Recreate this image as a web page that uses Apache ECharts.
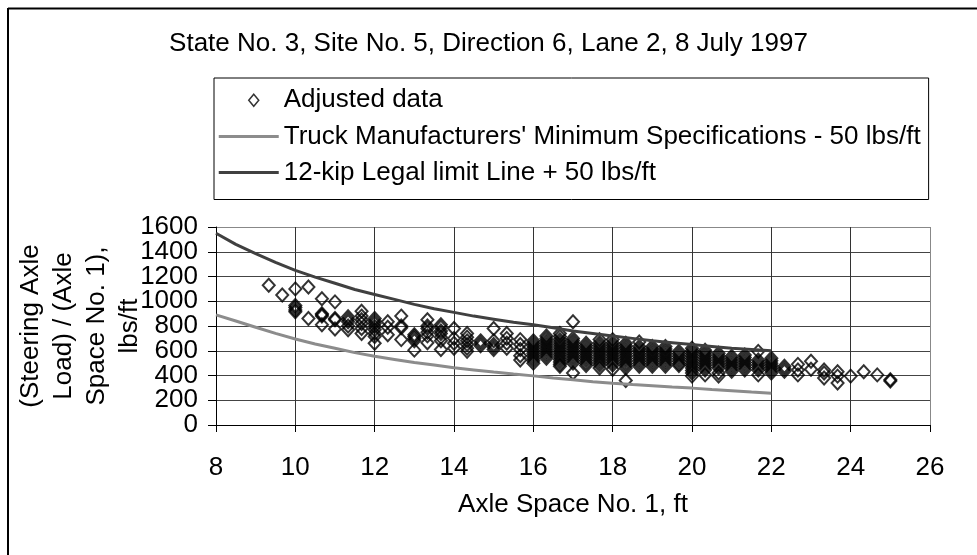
<!DOCTYPE html>
<html>
<head>
<meta charset="utf-8">
<script src="https://cdn.jsdelivr.net/npm/echarts@6/dist/echarts.min.js"></script>
<style>
  html, body { margin: 0; padding: 0; background: #fff; }
  #chart { width: 977px; height: 555px; }
</style>
</head>
<body>
<div id="chart"></div>
<script>
// axis ticks
const xTicks = [8, 26, 2]
const yTicks = [0, 1600, 200]

// Adjusted data, [axle space ft, lbs/ft]
const adjustedData = [
  [9.33, 1130], [9.67, 1050],
  [10.0, 1100], [10.0, 965], [10.0, 950], [10.0, 930], [10.0, 915],
  [10.33, 1115], [10.33, 860],
  [10.67, 1020], [10.67, 900], [10.67, 890], [10.67, 880], [10.67, 810],
  [11.0, 995], [11.0, 860], [11.0, 850], [11.0, 775],
  [11.33, 875], [11.33, 855], [11.33, 835], [11.33, 800], [11.33, 770],
  [11.67, 920], [11.67, 880], [11.67, 850], [11.67, 820], [11.67, 780], [11.67, 740],
  [12.0, 860], [12.0, 840], [12.0, 820], [12.0, 795], [12.0, 770], [12.0, 740], [12.0, 715], [12.0, 660],
  [12.33, 835], [12.33, 790], [12.33, 730],
  [12.67, 880], [12.67, 800], [12.67, 785], [12.67, 690],
  [13.0, 730], [13.0, 715], [13.0, 700], [13.0, 680], [13.0, 605],
  [13.33, 850], [13.33, 800], [13.33, 780], [13.33, 750], [13.33, 720], [13.33, 665],
  [13.67, 810], [13.67, 790], [13.67, 760], [13.67, 740], [13.67, 710], [13.67, 680], [13.67, 610],
  [14.0, 780], [14.0, 700], [14.0, 660], [14.0, 620],
  [14.33, 740], [14.33, 710], [14.33, 680], [14.33, 650], [14.33, 620], [14.33, 595],
  [14.67, 680], [14.67, 660], [14.67, 640],
  [15.0, 780], [15.0, 680], [15.0, 650], [15.0, 630], [15.0, 610],
  [15.33, 740], [15.33, 700], [15.33, 660], [15.33, 620],
  [15.67, 690], [15.67, 650], [15.67, 610], [15.67, 560], [15.67, 525],
  [16.0, 680], [16.0, 660], [16.0, 640], [16.0, 620], [16.0, 600], [16.0, 580], [16.0, 560], [16.0, 540], [16.0, 520], [16.0, 500],
  [16.33, 720], [16.33, 700], [16.33, 680], [16.33, 660], [16.33, 640], [16.33, 620], [16.33, 600], [16.33, 580], [16.33, 560], [16.33, 540],
  [16.67, 740], [16.67, 715], [16.67, 690], [16.67, 670], [16.67, 650], [16.67, 630], [16.67, 610], [16.67, 590], [16.67, 570], [16.67, 550], [16.67, 530], [16.67, 510], [16.67, 490], [16.67, 475],
  [17.0, 835], [17.0, 700], [17.0, 680], [17.0, 660], [17.0, 640], [17.0, 620], [17.0, 600], [17.0, 580], [17.0, 560], [17.0, 540], [17.0, 520], [17.0, 500], [17.0, 420],
  [17.33, 660], [17.33, 640], [17.33, 620], [17.33, 600], [17.33, 580], [17.33, 560], [17.33, 540], [17.33, 520], [17.33, 500], [17.33, 480],
  [17.67, 690], [17.67, 665], [17.67, 645], [17.67, 625], [17.67, 605], [17.67, 585], [17.67, 565], [17.67, 545], [17.67, 525], [17.67, 505], [17.67, 485], [17.67, 460],
  [18.0, 690], [18.0, 665], [18.0, 645], [18.0, 625], [18.0, 605], [18.0, 585], [18.0, 565], [18.0, 545], [18.0, 525], [18.0, 505], [18.0, 485], [18.0, 450],
  [18.33, 660], [18.33, 640], [18.33, 620], [18.33, 600], [18.33, 580], [18.33, 560], [18.33, 540], [18.33, 520], [18.33, 500], [18.33, 480], [18.33, 460], [18.33, 360],
  [18.67, 670], [18.67, 635], [18.67, 615], [18.67, 595], [18.67, 575], [18.67, 555], [18.67, 535], [18.67, 515], [18.67, 495], [18.67, 475],
  [19.0, 635], [19.0, 615], [19.0, 595], [19.0, 575], [19.0, 555], [19.0, 535], [19.0, 515], [19.0, 495], [19.0, 475],
  [19.33, 635], [19.33, 615], [19.33, 595], [19.33, 575], [19.33, 555], [19.33, 535], [19.33, 515], [19.33, 495], [19.33, 475],
  [19.67, 595], [19.67, 575], [19.67, 555], [19.67, 535], [19.67, 515], [19.67, 495], [19.67, 480],
  [20.0, 620], [20.0, 600], [20.0, 580], [20.0, 560], [20.0, 540], [20.0, 520], [20.0, 500], [20.0, 480], [20.0, 460], [20.0, 440], [20.0, 420], [20.0, 395],
  [20.33, 605], [20.33, 585], [20.33, 565], [20.33, 545], [20.33, 525], [20.33, 505], [20.33, 485], [20.33, 465], [20.33, 445], [20.33, 405],
  [20.67, 580], [20.67, 560], [20.67, 540], [20.67, 520], [20.67, 500], [20.67, 480], [20.67, 460], [20.67, 420], [20.67, 395],
  [21.0, 555], [21.0, 535], [21.0, 515], [21.0, 495], [21.0, 475], [21.0, 455], [21.0, 435],
  [21.33, 565], [21.33, 545], [21.33, 525], [21.33, 505], [21.33, 485], [21.33, 465], [21.33, 445],
  [21.67, 595], [21.67, 525], [21.67, 505], [21.67, 485], [21.67, 465], [21.67, 445], [21.67, 405],
  [22.0, 540], [22.0, 520], [22.0, 500], [22.0, 480], [22.0, 460], [22.0, 440], [22.0, 420],
  [22.33, 475], [22.33, 455], [22.33, 435],
  [22.67, 490], [22.67, 445], [22.67, 405],
  [23.0, 515], [23.0, 450],
  [23.33, 445], [23.33, 420], [23.33, 380],
  [23.67, 430], [23.67, 395], [23.67, 340],
  [24.0, 395], [24.33, 430], [24.67, 405],
  [25.0, 365], [25.0, 355]
]

// Truck Manufacturers' Minimum Specifications - 50 lbs/ft
const mfrLine = [
  [8, 890], [8.5, 840], [9, 790], [9.5, 740], [10, 695], [10.5, 655], [11, 620], [11.5, 585],
  [12, 555], [12.5, 530], [13, 505], [13.5, 485], [14, 462], [14.5, 445], [15, 428], [15.5, 412],
  [16, 397], [16.5, 380], [17, 365], [17.5, 350], [18, 338], [18.5, 327], [19, 317], [19.5, 307],
  [20, 298], [20.5, 287], [21, 277], [21.5, 266], [22, 256]
]

// 12-kip Legal limit Line + 50 lbs/ft
const legalLine = [
  [8, 1550], [8.5, 1460], [9, 1385], [9.5, 1315], [10, 1250], [10.5, 1195], [11, 1145], [11.5, 1095],
  [12, 1055], [12.5, 1015], [13, 975], [13.5, 940], [14, 910], [14.5, 880], [15, 855], [15.5, 830],
  [16, 810], [16.5, 785], [17, 760], [17.5, 740], [18, 720], [18.5, 700], [19, 680], [19.5, 665],
  [20, 650], [20.5, 635], [21, 620], [21.5, 610], [22, 600]
]

const seriesNames = [
  'Adjusted data',
  "Truck Manufacturers' Minimum Specifications - 50 lbs/ft",
  '12-kip Legal limit Line + 50 lbs/ft'
]
const mfrColor = '#8c8c8c'
const legalColor = '#404040'

const font = "'Liberation Sans', Arial, sans-serif"
const fontSize = 26

// grid line colours: plot border lines at max are grey
const xSplitColors = []
for (let i = 0; i < 9; i++) { xSplitColors.push('#333') }
xSplitColors.push('#888')
const ySplitColors = []
for (let i = 0; i < 8; i++) { ySplitColors.push('#444') }
ySplitColors.push('#888')

// legend icons drawn inside a 60x25 box (the M0,0M60,25 keeps the box size)
const diamondIcon = 'path://M0,0M60,25M35,6.5L40,12.5L35,18.5L30,12.5Z'
const lineIcon = 'path://M0,0M60,25M0,11L60,11L60,14L0,14Z'

const yLabelStyle = {
  fontSize: fontSize,
  color: '#000',
  margin: 18,
  fontFamily: font
}

const myChart = echarts.init(document.getElementById('chart'))
const option = {
  animation: false,
  textStyle: { fontFamily: font },
  title: {
    text: 'State No. 3, Site No. 5, Direction 6, Lane 2, 8 July 1997',
    left: 'center',
    top: 26,
    textStyle: { fontSize: fontSize, fontWeight: 'normal', color: '#000', fontFamily: font }
  },
  legend: {
    orient: 'vertical',
    left: 214,
    top: 78,
    padding: [9, 8, 14, 4],
    itemWidth: 60,
    itemHeight: 25,
    itemGap: 10,
    borderColor: '#000',
    borderWidth: 1,
    selectedMode: false,
    textStyle: { fontSize: fontSize, color: '#000', fontFamily: font },
    data: [
      {
        name: seriesNames[0],
        icon: diamondIcon,
        itemStyle: { color: 'rgba(0,0,0,0)', borderColor: '#000', borderWidth: 1.5 }
      },
      { name: seriesNames[1], icon: lineIcon, itemStyle: { color: mfrColor, borderWidth: 0 } },
      { name: seriesNames[2], icon: lineIcon, itemStyle: { color: legalColor, borderWidth: 0 } }
    ]
  },
  grid: { left: 216, right: 47, top: 227, bottom: 130, outerBoundsMode: 'none' },
  xAxis: {
    type: 'value',
    min: xTicks[0],
    max: xTicks[1],
    interval: xTicks[2],
    name: 'Axle Space No. 1, ft',
    nameLocation: 'middle',
    nameGap: 67,
    nameMoveOverlap: false,
    nameTextStyle: { fontSize: fontSize, color: '#000', fontFamily: font },
    axisLine: { lineStyle: { color: '#000', width: 1 } },
    axisTick: { show: true, length: 7, lineStyle: { color: '#000' } },
    axisLabel: { fontSize: fontSize, color: '#000', margin: 30, fontFamily: font, showMinLabel: true, showMaxLabel: true },
    splitLine: { show: true, lineStyle: { color: xSplitColors, width: 1 } }
  },
  // two copies of the same y scale: the first carries the lines, ticks, name and the end labels,
  // the second only the inner labels, so that none of the tightly packed labels get dropped
  yAxis: [
    {
      type: 'value',
      min: yTicks[0],
      max: yTicks[1],
      interval: yTicks[2],
      name: '(Steering Axle\nLoad) / (Axle\nSpace No. 1),\nlbs/ft',
      nameLocation: 'middle',
      nameRotate: 90,
      nameGap: 70,
      nameMoveOverlap: false,
      nameTextStyle: { fontSize: fontSize, color: '#000', lineHeight: 33, fontFamily: font },
      axisLine: { show: true, lineStyle: { color: '#000', width: 1 } },
      axisTick: { show: true, length: 8, lineStyle: { color: '#000' } },
      axisLabel: Object.assign({}, yLabelStyle, {
        showMinLabel: true,
        showMaxLabel: true,
        formatter: (v) => (v === yTicks[0] || v === yTicks[1]) ? String(v) : ''
      }),
      splitLine: { show: true, lineStyle: { color: ySplitColors, width: 1 } }
    },
    {
      type: 'value',
      position: 'left',
      min: yTicks[0],
      max: yTicks[1],
      interval: yTicks[2],
      axisLine: { show: false },
      axisTick: { show: false },
      splitLine: { show: false },
      axisLabel: Object.assign({}, yLabelStyle, {
        showMinLabel: false,
        showMaxLabel: false,
        formatter: (v) => String(v)
      })
    }
  ],
  series: [
    {
      name: seriesNames[0],
      type: 'scatter',
      data: adjustedData,
      symbol: 'diamond',
      symbolSize: [12, 13],
      itemStyle: { color: 'rgba(0,0,0,0)', borderColor: '#000', borderWidth: 2 },
      emphasis: { disabled: true },
      z: 3
    },
    {
      name: seriesNames[1],
      type: 'line',
      data: mfrLine,
      symbol: 'none',
      lineStyle: { color: mfrColor, width: 3 },
      itemStyle: { color: mfrColor },
      z: 4
    },
    {
      name: seriesNames[2],
      type: 'line',
      data: legalLine,
      symbol: 'none',
      lineStyle: { color: legalColor, width: 3 },
      itemStyle: { color: legalColor },
      z: 4
    }
  ],
  graphic: [
    { type: 'line', shape: { x1: 8, y1: 8, x2: 8, y2: 555 }, style: { stroke: '#000', lineWidth: 2 } },
    { type: 'line', shape: { x1: 8, y1: 8.5, x2: 977, y2: 8.5 }, style: { stroke: '#000', lineWidth: 2 } }
  ]
}
myChart.setOption(option)
</script>
</body>
</html>
